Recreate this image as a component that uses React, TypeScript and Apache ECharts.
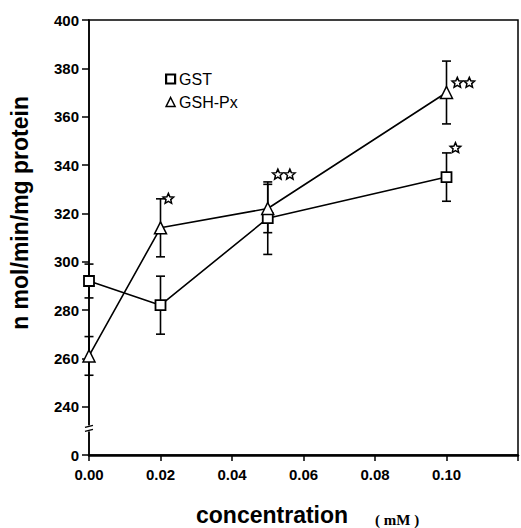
import React, { useEffect, useRef } from 'react';
import * as echarts from 'echarts';

const concentrations = [0, 0.02, 0.05, 0.1];
const gstValues = [292, 282, 318, 335];
const gstErrors = [7, 12, 15, 10];
const gshValues = [261, 314, 322, 370];
const gshErrors = [8, 12, 10, 13];
const xTickLabels = ['0.00', '0.02', '0.04', '0.06', '0.08', '0.10'];
const yTickLabels = ['0', '240', '260', '280', '300', '320', '340', '360', '380', '400'];
// significance marks: [x, y, number of stars]
const starMarks: [number, number, number][] = [
  [0.0222, 326, 1],
  [0.0545, 336, 2],
  [0.1047, 374, 2],
  [0.1025, 347, 1],
];
const breakValue = 231;

const FONT = 'Liberation Sans, Arial, sans-serif';

function starPoints(cx: number, cy: number, R: number, r: number) {
  const pts: number[][] = [];
  for (let i = 0; i < 10; i++) {
    const a = -Math.PI / 2 + (i * Math.PI) / 5;
    const rad = i % 2 === 0 ? R : r;
    pts.push([cx + rad * Math.cos(a), cy + rad * Math.sin(a)]);
  }
  return pts;
}

export default function App() {
  const ref = useRef<HTMLDivElement>(null);
  useEffect(() => {
    if (!ref.current) return;
    const chart = echarts.init(ref.current, null, { renderer: 'svg' });

    const errData = (vals: number[], errs: number[]) =>
      concentrations.map((c, i) => [c, vals[i] - errs[i], vals[i] + errs[i]]);

    const errorSeries = (name: string, vals: number[], errs: number[]) => ({
      type: 'custom',
      name: name + '-err',
      z: 1,
      silent: true,
      data: errData(vals, errs),
      renderItem: (params: any, api: any) => {
        const x = api.value(0);
        const lo = api.coord([x, api.value(1)]);
        const hi = api.coord([x, api.value(2)]);
        const w = 4.5;
        const style = { stroke: '#000', lineWidth: 1.6 };
        return {
          type: 'group',
          children: [
            { type: 'line', shape: { x1: lo[0], y1: lo[1], x2: hi[0], y2: hi[1] }, style },
            { type: 'line', shape: { x1: lo[0] - w, y1: lo[1], x2: lo[0] + w, y2: lo[1] }, style },
            { type: 'line', shape: { x1: hi[0] - w, y1: hi[1], x2: hi[0] + w, y2: hi[1] }, style },
          ],
        };
      },
    });

    chart.setOption({
      animation: false,
      backgroundColor: '#fff',
      grid: {
        left: 89,
        right: 2,
        top: 20,
        bottom: 73,
        show: true,
        borderColor: '#000',
        borderWidth: 1.5,
      },
      legend: {
        orient: 'vertical',
        left: 160,
        top: 66,
        itemWidth: 9,
        itemHeight: 9,
        itemGap: 7,
        textStyle: { fontFamily: FONT, fontSize: 16, color: '#000', padding: [0, 0, 0, -1] },
        data: [
          { name: 'GST', icon: 'rect', itemStyle: { color: '#fff', borderColor: '#000', borderWidth: 2.2 } },
          { name: 'GSH-Px', icon: 'triangle', itemStyle: { color: '#fff', borderColor: '#000', borderWidth: 1.5 } },
        ],
      },
      xAxis: {
        type: 'value',
        min: 0,
        max: 0.12,
        interval: 0.02,
        axisLine: { show: true, lineStyle: { color: '#000', width: 2.5 } },
        axisTick: { show: true, length: 6, lineStyle: { color: '#000', width: 1.5 } },
        axisLabel: {
          margin: 12,
          fontFamily: FONT,
          fontWeight: 'bold',
          fontSize: 15,
          color: '#000',
          formatter: (v: number) => {
            const idx = Math.round(v / 0.02);
            return xTickLabels[idx] ?? '';
          },
        },
        splitLine: { show: false },
      },
      yAxis: {
        type: 'value',
        min: 220,
        max: 400,
        interval: 20,
        axisLine: { show: true, lineStyle: { color: '#000', width: 1.5 } },
        axisTick: { show: true, length: 7, lineStyle: { color: '#000', width: 1.5 } },
        axisLabel: {
          margin: 10,
          fontFamily: FONT,
          fontWeight: 'bold',
          fontSize: 15,
          color: '#000',
          formatter: (v: number) => yTickLabels[Math.round((v - 220) / 20)] ?? '',
        },
        splitLine: { show: false },
      },
      graphic: [
        {
          type: 'text',
          rotation: Math.PI / 2,
          left: 8,
          top: 96,
          style: {
            text: 'n mol/min/mg protein',
            fontFamily: FONT,
            fontWeight: 'bold',
            fontSize: 23,
            fill: '#000',
          },
        },
        {
          type: 'text',
          left: 196,
          top: 503,
          style: {
            text: 'concentration',
            fontFamily: FONT,
            fontWeight: 'bold',
            fontSize: 23,
            fill: '#000',
          },
        },
        {
          type: 'text',
          left: 375,
          top: 512,
          style: {
            text: '( mM )',
            fontFamily: 'Liberation Serif, serif',
            fontWeight: 'bold',
            fontSize: 15,
            fill: '#000',
          },
        },
      ],
      series: [
        errorSeries('GST', gstValues, gstErrors),
        errorSeries('GSH-Px', gshValues, gshErrors),
        {
          type: 'line',
          name: 'GST',
          z: 3,
          data: concentrations.map((c, i) => [c, gstValues[i]]),
          symbol: 'rect',
          symbolSize: 10,
          showAllSymbol: true,
          lineStyle: { color: '#000', width: 1.6 },
          itemStyle: { color: '#fff', borderColor: '#000', borderWidth: 1.8 },
        },
        {
          type: 'line',
          name: 'GSH-Px',
          z: 3,
          data: concentrations.map((c, i) => [c, gshValues[i]]),
          symbol: 'triangle',
          symbolSize: 12,
          showAllSymbol: true,
          lineStyle: { color: '#000', width: 1.6 },
          itemStyle: { color: '#fff', borderColor: '#000', borderWidth: 1.5 },
        },
        {
          type: 'custom',
          name: 'stars',
          silent: true,
          z: 4,
          data: starMarks.map((s) => [s[0], s[1], s[2]]),
          renderItem: (params: any, api: any) => {
            const p = api.coord([api.value(0), api.value(1)]);
            const n = api.value(2);
            const gap = 12;
            const children = [];
            for (let k = 0; k < n; k++) {
              const cx = p[0] + (k - (n - 1) / 2) * gap;
              children.push({
                type: 'polygon',
                shape: { points: starPoints(cx, p[1], 5.5, 2.5) },
                style: { fill: '#fff', stroke: '#000', lineWidth: 1.5 },
              });
            }
            return { type: 'group', children };
          },
        },
        {
          type: 'custom',
          name: 'break',
          silent: true,
          z: 5,
          clip: false,
          data: [[0, breakValue]],
          renderItem: (params: any, api: any) => {
            const p = api.coord([api.value(0), api.value(1)]);
            return {
              type: 'group',
              children: [
                { type: 'rect', shape: { x: p[0] - 4, y: p[1] - 3, width: 8, height: 6 }, style: { fill: '#fff' } },
                { type: 'line', shape: { x1: p[0] - 4, y1: p[1] - 1, x2: p[0] + 4, y2: p[1] - 3 }, style: { stroke: '#000', lineWidth: 1.3 } },
                { type: 'line', shape: { x1: p[0] - 4, y1: p[1] + 3, x2: p[0] + 4, y2: p[1] + 1 }, style: { stroke: '#000', lineWidth: 1.3 } },
              ],
            };
          },
        },
      ],
    });
    return () => chart.dispose();
  }, []);
  return (
    <div
      ref={ref}
      style={{ position: 'fixed', left: 0, top: 0, width: 521, height: 528, background: '#fff' }}
    />
  );
}
